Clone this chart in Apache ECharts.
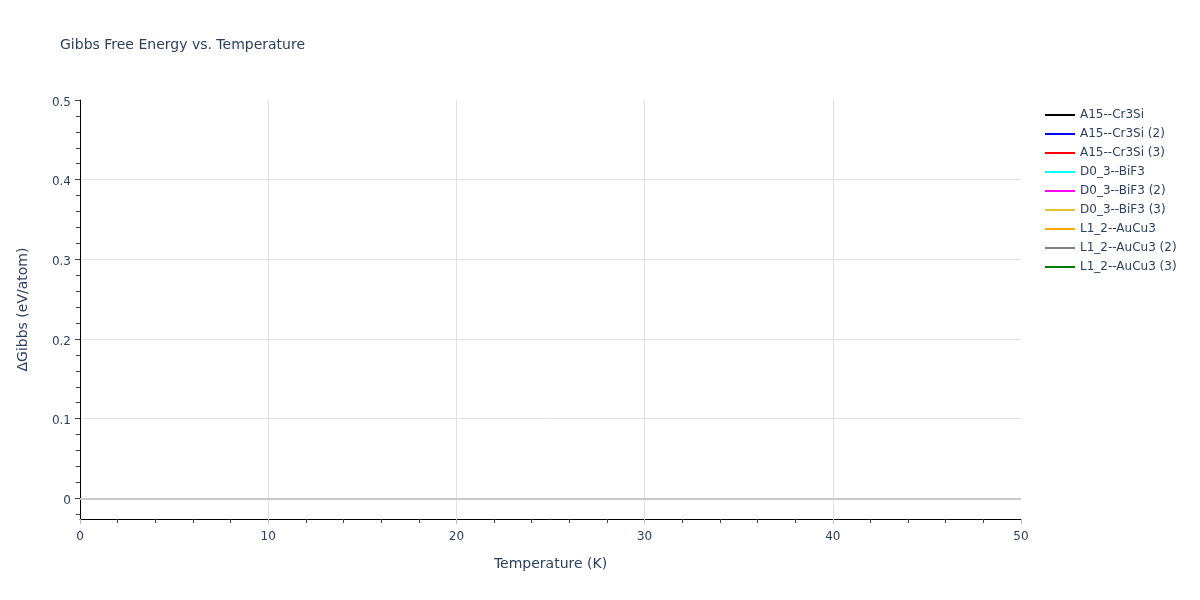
<!DOCTYPE html>
<html>
<head>
<meta charset="utf-8">
<script src="https://cdn.jsdelivr.net/npm/echarts@6/dist/echarts.min.js"></script>
<style>html,body{margin:0;padding:0;background:#fff;}#c{width:1200px;height:600px;}</style>
</head>
<body>
<div id="c"></div>
<script>
// Data (no visible curves in the reference: every series is empty)
var seriesNames = ['A15--Cr3Si','A15--Cr3Si (2)','A15--Cr3Si (3)','D0_3--BiF3','D0_3--BiF3 (2)','D0_3--BiF3 (3)','L1_2--AuCu3','L1_2--AuCu3 (2)','L1_2--AuCu3 (3)'];
var seriesColors = ['#000000','#0000ff','#ff0000','#00ffff','#ff00ff','#ecc235','#ffa500','#808080','#008000'];
var seriesValues = [[],[],[],[],[],[],[],[],[]];
var yTickLabels = [0, 0.1, 0.2, 0.3, 0.4, 0.5];
var xTickLabels = [0, 10, 20, 30, 40, 50];

var yMin = -0.026, yMax = 0.5;
// minor ticks: 5 subdivisions per major step
var yMinor = [];
for (var k = -5; k <= 25; k++) {
  var v = Math.round(k * 0.02 * 1000) / 1000;
  if (v > yMin && v < yMax && k % 5 !== 0) yMinor.push(v);
}

var textColor = '#2a3f5f';
var font = '"DejaVu Sans", Verdana, sans-serif';
var chart = echarts.init(document.getElementById('c'));
var series = seriesNames.map(function (n, i) {
  return {
    name: n, type: 'line', data: seriesValues[i], symbol: 'none', showSymbol: false,
    lineStyle: {color: seriesColors[i], width: 2}, itemStyle: {color: seriesColors[i]}
  };
});
series.push({
  name: '__zero', type: 'line', data: [], silent: true,
  markLine: {silent: true, symbol: 'none', label: {show: false},
    lineStyle: {color: '#c8c8c8', width: 2, type: 'solid'},
    data: [{yAxis: 0}]}
});
chart.setOption({
  animation: false,
  backgroundColor: '#fff',
  textStyle: {fontFamily: font},
  title: {text: 'Gibbs Free Energy vs. Temperature', left: 60, top: 38, padding: 0,
    textStyle: {fontFamily: font, fontSize: 14, fontWeight: 'normal', color: textColor}},
  legend: {
    data: seriesNames.map(function (n, i) { return {name: n, icon: 'path://M0,0 L30,0 L30,2 L0,2 Z', itemStyle: {color: seriesColors[i]}}; }),
    orient: 'vertical', left: 1045, top: 109, padding: 0, itemWidth: 30, itemHeight: 2, itemGap: 7,
    textStyle: {fontFamily: font, fontSize: 12, color: textColor}
  },
  grid: {left: 80, right: 179, top: 100, bottom: 81, containLabel: false},
  xAxis: {
    type: 'value', min: 0, max: 50, interval: 10,
    name: 'Temperature (K)', nameLocation: 'middle', nameGap: 38,
    nameTextStyle: {fontFamily: font, fontSize: 14, color: textColor},
    axisLine: {show: true, onZero: false, lineStyle: {color: '#000', width: 1}},
    axisTick: {show: true, length: 5, lineStyle: {color: '#bbbbbb'}},
    minorTick: {show: true, splitNumber: 5, length: 4, lineStyle: {color: '#444'}},
    axisLabel: {fontFamily: font, fontSize: 12, color: textColor, margin: 12,
      formatter: function (v) { return xTickLabels.indexOf(v) >= 0 ? String(v) : ''; }},
    splitLine: {show: true, showMinLine: false, showMaxLine: false, lineStyle: {color: '#e0e0e0', width: 1}}
  },
  yAxis: [{
    type: 'value', min: yMin, max: yMax,
    name: 'ΔGibbs (eV/atom)', nameLocation: 'middle', nameGap: 50, nameRotate: 90,
    nameTextStyle: {fontFamily: font, fontSize: 14, color: textColor},
    axisLine: {show: true, onZero: false, lineStyle: {color: '#000', width: 1}},
    axisTick: {show: true, length: 5, customValues: yTickLabels, lineStyle: {color: '#444'}},
    axisLabel: {fontFamily: font, fontSize: 12, color: textColor, margin: 9, customValues: yTickLabels,
      rich: {t: {fontFamily: font, fontSize: 12, color: textColor, padding: [5, 0, 0, 0]}},
      formatter: function (v) { return '{t|' + String(Math.round(v * 10) / 10) + '}'; }},
    splitLine: {show: true, showMinLine: false, showMaxLine: false, lineStyle: {color: '#e0e0e0', width: 1}}
  }, {
    type: 'value', min: yMin, max: yMax, position: 'left',
    axisLine: {show: false},
    axisTick: {show: true, length: 4, customValues: yMinor, lineStyle: {color: '#444'}},
    axisLabel: {show: false},
    splitLine: {show: false}
  }],
  series: series
});
</script>
</body>
</html>
